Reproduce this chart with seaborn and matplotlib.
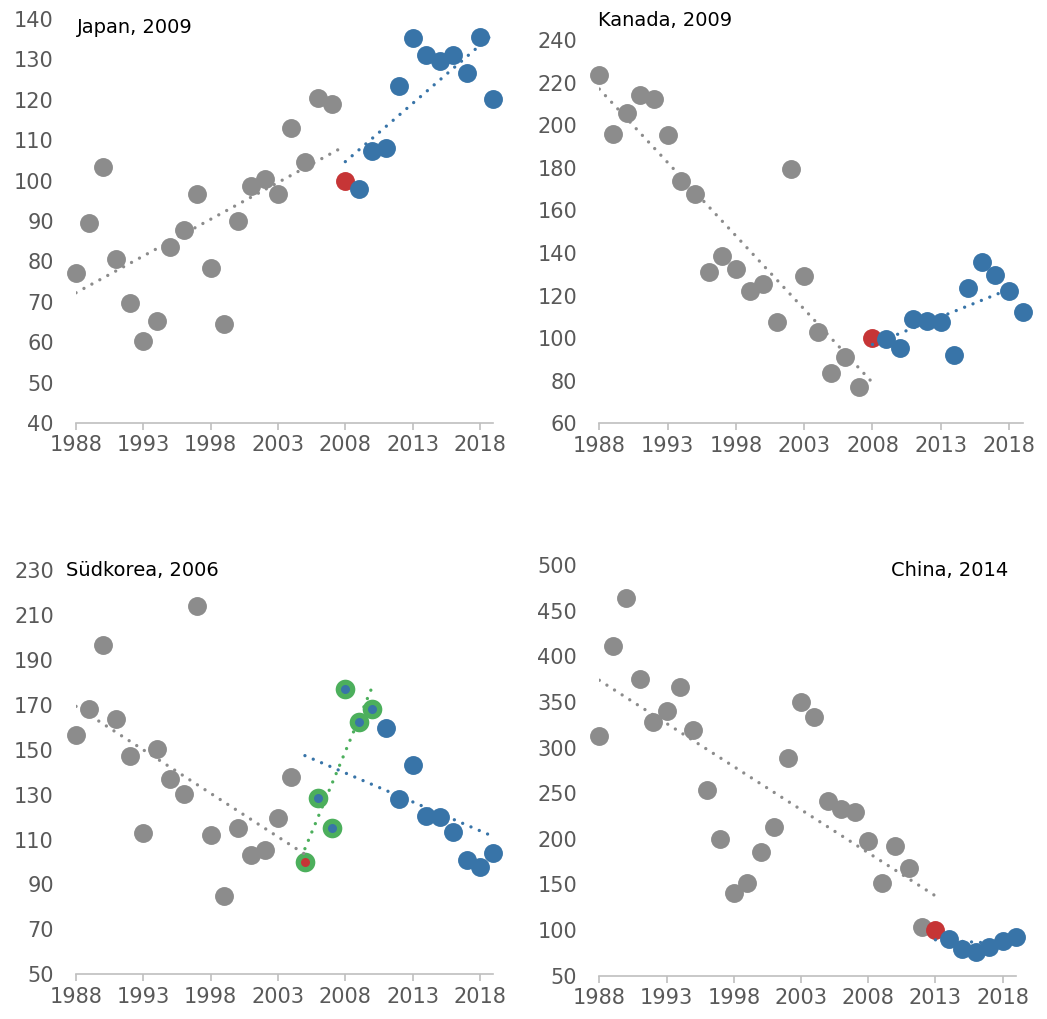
import numpy as np
import pandas as pd
import seaborn as sns
import matplotlib.pyplot as plt

# Daten (Index, Basisjahr = 100)
years = list(range(1988, 2020))

japan = [77.0, 89.5, 103.3, 80.5, 69.7, 60.3, 65.3, 83.5, 87.7, 96.7, 78.3, 64.4,
         90.0, 98.7, 100.4, 96.6, 113.1, 104.7, 120.4, 118.9, 100.0, 97.9, 107.4,
         108.1, 123.5, 135.4, 131.1, 129.7, 131.0, 126.5, 135.5, 120.3]
kanada = [223.4, 195.9, 205.6, 214.3, 212.3, 195.4, 173.8, 167.7, 130.9, 138.7,
          132.6, 122.3, 125.6, 107.4, 179.4, 129.2, 102.7, 83.5, 91.2, 77.1, 100.0,
          99.6, 95.5, 109.0, 108.2, 107.7, 92.2, 123.7, 135.6, 129.5, 122.1, 112.4]
suedkorea = [156.4, 168.1, 196.8, 163.8, 147.0, 112.9, 150.3, 137.0, 130.3, 213.8,
             112.0, 84.9, 115.1, 103.3, 105.2, 119.7, 138.0, 100.0, 128.7, 115.3,
             177.0, 162.5, 168.3, 159.7, 128.2, 143.2, 120.6, 120.2, 113.4, 100.9,
             97.9, 104.2]
china = [312.3, 411.2, 463.5, 374.7, 328.3, 339.7, 366.0, 319.6, 253.1, 200.1,
         141.0, 151.2, 185.9, 212.9, 288.2, 349.5, 333.1, 241.0, 233.0, 229.4, 197.6,
         151.2, 191.7, 168.0, 103.0, 100.0, 90.2, 78.9, 75.6, 81.8, 88.4, 92.0]

titles = ['Japan, 2009', 'Kanada, 2009', 'Südkorea, 2006', 'China, 2014']
base_years = [2008, 2008, 2005, 2013]
green_end = 2010  # nur Südkorea
yticks = [np.arange(40, 141, 10), np.arange(60, 241, 20),
          np.arange(50, 231, 20), np.arange(50, 501, 50)]

GRAY = '#8c8c8c'
BLUE = '#3874a8'
RED = '#c63536'
GREEN = '#4caf5c'

sns.set_theme(style='white')
plt.rcParams['font.family'] = ['DejaVu Sans']

fig = plt.figure(figsize=(10.47, 10.19), dpi=100)
boxes = [[0.0726, 0.5849, 0.3987, 0.3965],
         [0.5724, 0.5846, 0.4044, 0.3761],
         [0.0726, 0.0439, 0.3987, 0.3967],
         [0.5724, 0.0425, 0.3981, 0.4030]]

dot = dict(lw=2.4, ls=(0, (0.01, 2.7)), dash_capstyle='round', zorder=4)
S = 185

for i, vals in enumerate([japan, kanada, suedkorea, china]):
    ax = fig.add_axes(boxes[i])
    df = pd.DataFrame({'year': years, 'value': vals})
    b = base_years[i]
    pre = df[df.year < b]
    post = df[df.year > b]
    base = df[df.year == b]

    sns.regplot(data=df[df.year <= b], x='year', y='value', scatter=False, ci=None,
                ax=ax, line_kws=dict(color=GRAY, **dot))
    sns.regplot(data=df[df.year >= b], x='year', y='value', scatter=False, ci=None,
                ax=ax, line_kws=dict(color=BLUE, **dot))

    sns.scatterplot(data=pre, x='year', y='value', color=GRAY, s=S, linewidth=0,
                    ax=ax, clip_on=False, zorder=3)
    if i == 2:
        win = df[(df.year >= b) & (df.year <= green_end)]
        sns.regplot(data=win, x='year', y='value', scatter=False, ci=None, ax=ax,
                    line_kws=dict(color=GREEN, **dot))
        rest = post[post.year > green_end]
        sns.scatterplot(data=rest, x='year', y='value', color=BLUE, s=S,
                        linewidth=0, ax=ax, clip_on=False, zorder=3)
        sns.scatterplot(data=win, x='year', y='value', color=GREEN, s=S + 15,
                        linewidth=0, ax=ax, clip_on=False, zorder=3)
        sns.scatterplot(data=win[win.year > b], x='year', y='value', color=BLUE,
                        s=42, linewidth=0, ax=ax, clip_on=False, zorder=5)
        sns.scatterplot(data=base, x='year', y='value', color=RED, s=42,
                        linewidth=0, ax=ax, clip_on=False, zorder=5)
    else:
        sns.scatterplot(data=base, x='year', y='value', color=RED, s=S,
                        linewidth=0, ax=ax, clip_on=False, zorder=3)
        sns.scatterplot(data=post, x='year', y='value', color=BLUE, s=S,
                        linewidth=0, ax=ax, clip_on=False, zorder=3)

    ax.set_xlim(1988, 2019)
    ax.set_ylim(yticks[i][0], yticks[i][-1])
    ax.set_xticks(range(1988, 2019, 5))
    ax.set_yticks(yticks[i])
    ax.set_xlabel('')
    ax.set_ylabel('')
    for s in ['left', 'right', 'top']:
        ax.spines[s].set_visible(False)
    ax.spines['bottom'].set_color('#bfbfbf')
    ax.spines['bottom'].set_linewidth(1.2)
    ax.tick_params(axis='x', bottom=True, length=5, width=1.2, color='#bfbfbf',
                   pad=4, labelsize=15, labelcolor='#595959')
    ax.tick_params(axis='y', left=False, length=0, pad=16, labelsize=15,
                   labelcolor='#595959')

fig.text(0.0735, 0.9735, titles[0], fontsize=14, color='black', va='center')
fig.text(0.571, 0.980, titles[1], fontsize=14, color='black', va='center')
fig.text(0.063, 0.4406, titles[2], fontsize=14, color='black', va='center')
fig.text(0.963, 0.4406, titles[3], fontsize=14, color='black', va='center', ha='right')

fig.savefig('out.png', dpi=100)
